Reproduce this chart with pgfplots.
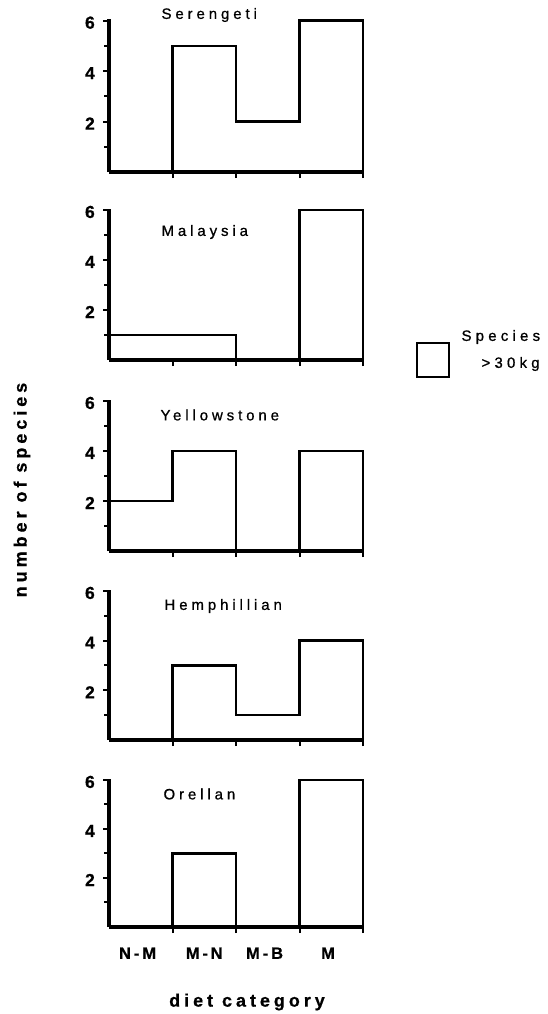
\documentclass[border=0pt]{standalone}
\usepackage{fontspec}
\setmainfont{Liberation Sans}
\newfontfamily\titlefont[LetterSpace=26, FakeBold=0.8]{Liberation Sans}
\newfontfamily\labfont[LetterSpace=22, FakeBold=0.6]{Liberation Sans}
\newfontfamily\catfont[LetterSpace=18, FakeBold=0.6]{Liberation Sans}
\newfontfamily\tickfont[FakeBold=0.6]{Liberation Sans}
\newfontfamily\legfont[LetterSpace=28, FakeBold=0.8]{Liberation Sans}
\usepackage{pgfplots}
\pgfplotsset{compat=1.18}
\pgfplotsset{
  panel/.style={
    scale only axis, width=254pt,
    xmin=0, xmax=4, ymin=0, ymax=6.05,
    axis x line*=bottom, axis y line*=left,
    axis line style={line width=3.6pt,-},
    xtick={1,2,3,4}, xticklabels={},
    ytick={2,4,6}, minor ytick={1,3,5},
    tick align=outside,
    major tick length=6pt, minor tick length=5pt,
    every tick/.style={line width=2pt, black},
    minor tick style={line width=2pt, black},
    major tick style={line width=2pt, black},
    yticklabel style={font=\tickfont\fontsize{17.5}{17.5}\selectfont\bfseries, /pgf/number format/assume math mode=true, inner sep=1pt, xshift=-7pt, yshift=-2pt},
    clip=false,
  },
  step/.style={const plot, line width=2.4pt, black, mark=none, line join=miter},
}
\begin{document}
\begin{tikzpicture}
\useasboundingbox (0pt,0pt) rectangle (547pt,-1014pt);
% Serengeti
\begin{axis}[panel, height=152.6pt, at={(109pt,-172pt)}, anchor=south west]
\addplot[step] coordinates {(0,0) (1,5) (2,2) (3,6) (4,6) (4,0)};
\end{axis}
\node[anchor=west, font=\titlefont\fontsize{15}{16}\selectfont] at (158pt,-15pt) {Serengeti};
% Malaysia
\begin{axis}[panel, height=151.3pt, at={(109pt,-360pt)}, anchor=south west]
\addplot[step] coordinates {(0,1) (1,1) (2,0) (3,6) (4,6) (4,0)};
\end{axis}
\node[anchor=west, font=\titlefont\fontsize{15}{16}\selectfont] at (158pt,-232pt) {Malaysia};
% Yellowstone
\begin{axis}[panel, height=151.3pt, at={(109pt,-551pt)}, anchor=south west]
\addplot[step] coordinates {(0,2) (1,4) (2,0) (3,4) (4,4) (4,0)};
\end{axis}
\node[anchor=west, font=\titlefont\fontsize{15}{16}\selectfont] at (157pt,-415pt) {Yellowstone};
% Hemphillian
\begin{axis}[panel, height=150.3pt, at={(109pt,-740pt)}, anchor=south west]
\addplot[step] coordinates {(0,0) (1,3) (2,1) (3,4) (4,4) (4,0)};
\end{axis}
\node[anchor=west, font=\titlefont\fontsize{15}{16}\selectfont] at (161pt,-606pt) {Hemphillian};
% Orellan
\begin{axis}[panel, height=148.3pt, at={(109pt,-927pt)}, anchor=south west,
  extra x ticks={0.45,1.5,2.45,3.45},
  extra x tick labels={N-M,M\,-\,N,M-B,M},
  extra x tick style={major tick length=0pt, xticklabel style={font=\catfont\fontsize{16.5}{16.5}\selectfont\bfseries, yshift=-17pt}}]
\addplot[step] coordinates {(0,0) (1,3) (2,0) (3,6) (4,6) (4,0)};
\end{axis}
\node[anchor=west, font=\titlefont\fontsize{15}{16}\selectfont] at (160pt,-794pt) {Orellan};
% axis titles
\node[font=\labfont\fontsize{18}{18}\selectfont\bfseries] at (247pt,-1002pt) {diet category};
\node[font=\labfont\fontsize{18}{18}\selectfont\bfseries, rotate=90] at (22pt,-490pt) {number of species};
% legend
\draw[line width=1.5pt] (417pt,-343pt) rectangle (449pt,-377pt);
\node[anchor=west, font=\legfont\fontsize{15}{15}\selectfont] at (458pt,-337pt) {Species};
\node[anchor=west, font=\legfont\fontsize{15}{15}\selectfont] at (478pt,-364pt) {>30kg};
\end{tikzpicture}
\end{document}
